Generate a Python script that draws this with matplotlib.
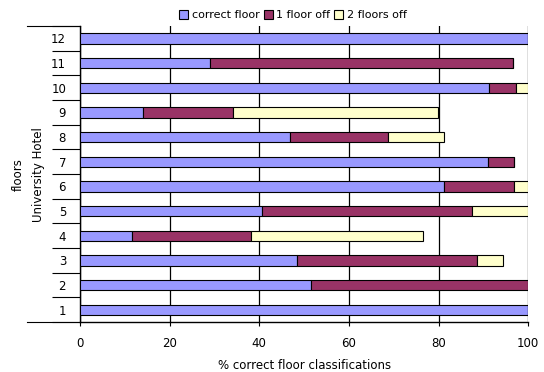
import matplotlib.pyplot as plt
import numpy as np

# floors 1..12 (bottom to top)
floors = ['1', '2', '3', '4', '5', '6', '7', '8', '9', '10', '11', '12']
correct_floor = [100, 51.6, 48.5, 11.7, 40.5, 81.3, 91.0, 46.9, 14.1, 91.3, 29.0, 100]
one_floor_off = [0, 48.4, 40.0, 26.4, 47.0, 15.6, 5.9, 21.8, 20.1, 5.9, 67.7, 0]
two_floors_off = [0, 0, 5.8, 38.4, 12.5, 3.1, 0, 12.5, 45.7, 2.8, 0, 0]
x_ticks = [0, 20, 40, 60, 80, 100]

plt.rcParams['font.family'] = ['DejaVu Sans']
plt.rcParams['font.size'] = 8.5

fig = plt.figure(figsize=(5.44, 3.72), dpi=100)
ax = fig.add_axes([0.147, 0.134, 0.824, 0.796])

y = np.arange(len(floors))
h = 0.42
c = np.array(correct_floor)
o = np.array(one_floor_off)
t = np.array(two_floors_off)

ax.barh(y, c, h, color='#9999FF', edgecolor='black', linewidth=0.8, label='correct floor', zorder=3)
ax.barh(y, o, h, left=c, color='#993366', edgecolor='black', linewidth=0.8, label='1 floor off', zorder=3)
ax.barh(y, t, h, left=c + o, color='#FFFFCC', edgecolor='black', linewidth=0.8, label='2 floors off', zorder=3)

ax.set_xlim(0, 100)
ax.set_ylim(-0.5, len(floors) - 0.5)
ax.set_xticks(x_ticks)
ax.set_yticks(y)
ax.set_yticklabels(floors)
ax.tick_params(axis='y', length=0, pad=10)
ax.tick_params(axis='x', length=3, direction='out', pad=8, color='black')
ax.set_yticks(np.arange(-0.5, len(floors), 1.0), minor=True)
ax.tick_params(axis='y', which='minor', length=20, width=0.8, color='black')

for s in ['top', 'right']:
    ax.spines[s].set_visible(False)
ax.spines['left'].set_linewidth(1.0)
ax.spines['bottom'].set_linewidth(1.0)
ax.xaxis.grid(True, color='black', linewidth=0.9)
ax.set_axisbelow(True)

# outer group lines top and bottom
trans = ax.get_yaxis_transform()
for yy in [-0.5, len(floors) - 0.5]:
    ax.plot([-0.118, 0], [yy, yy], color='black', linewidth=0.8, transform=trans, clip_on=False)

ax.set_xlabel('% correct floor classifications', labelpad=6)
ax.text(-0.093, 0.5, 'University Hotel', rotation=90, transform=ax.transAxes,
        ha='center', va='center')
ax.text(-0.138, 0.5, 'floors', rotation=90, transform=ax.transAxes,
        ha='center', va='center')

ax.legend(loc='lower center', bbox_to_anchor=(0.475, 1.0), ncol=3, frameon=False,
          handlelength=0.8, handleheight=0.8, handletextpad=0.3, columnspacing=0.4,
          borderaxespad=0.1, fontsize=8)

plt.savefig('out.png', dpi=100)
